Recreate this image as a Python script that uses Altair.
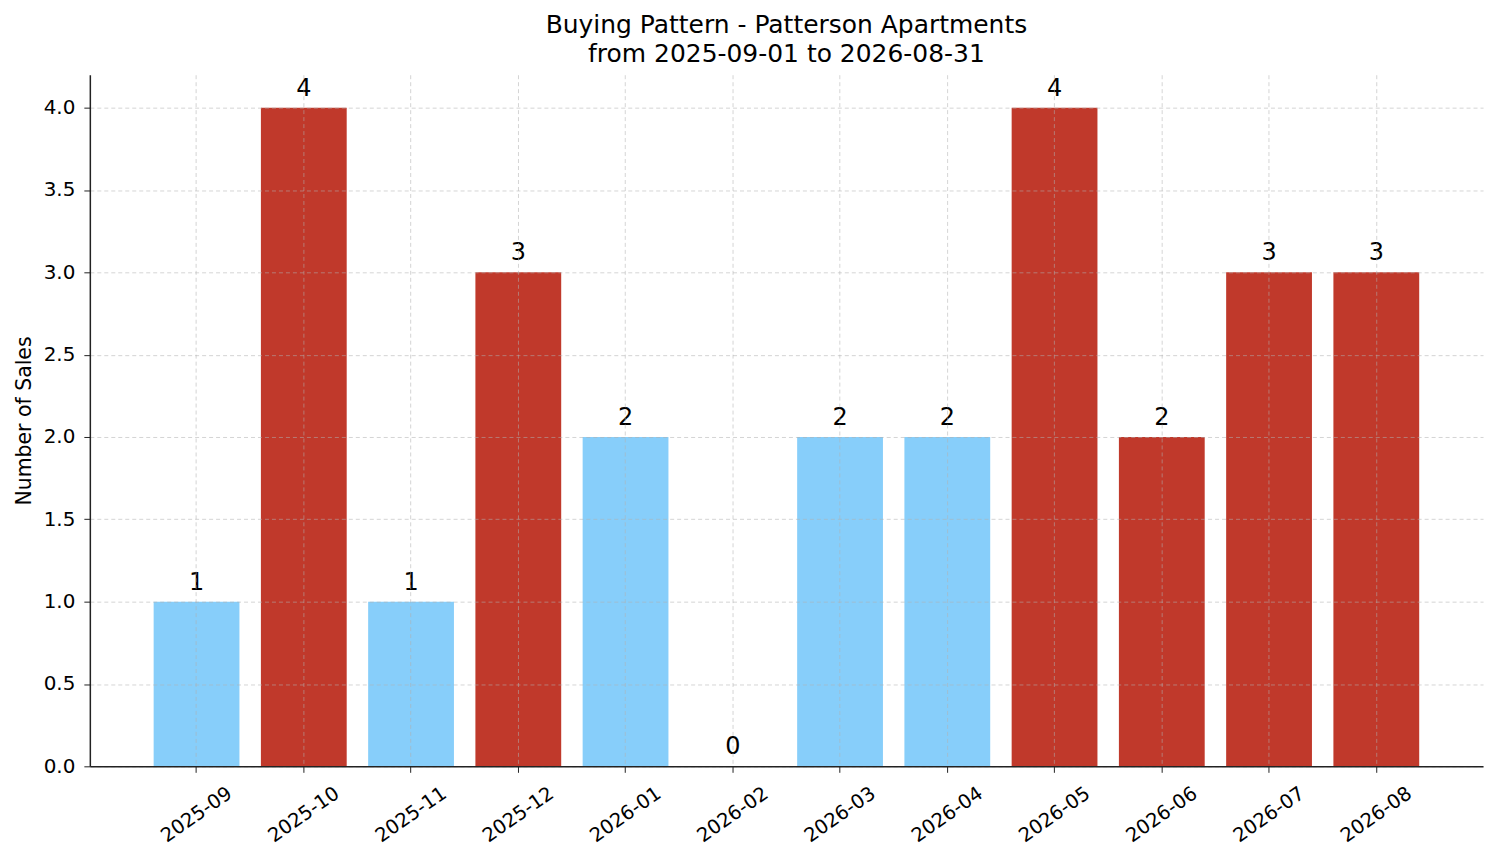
import altair as alt
import pandas as pd

months = ["2025-09", "2025-10", "2025-11", "2025-12", "2026-01", "2026-02",
          "2026-03", "2026-04", "2026-05", "2026-06", "2026-07", "2026-08"]
sales = [1, 4, 1, 3, 2, 0, 2, 2, 4, 2, 3, 3]
group = ["low", "high", "low", "high", "low", "low",
         "low", "low", "high", "high", "high", "high"]

df = pd.DataFrame({"Month": months, "Sales": sales, "Group": group})

FONT = "DejaVu Sans"

x_enc = alt.X("Month:N", sort=months, title=None,
              scale=alt.Scale(paddingInner=0.2, paddingOuter=0.595),
              axis=alt.Axis(labelAngle=325, labelAlign="center", labelBaseline="middle",
                            labelPadding=42, labelFontSize=19.5, labelFont=FONT,
                            labelColor="#000000", tickSize=6, tickColor="#222222",
                            domainColor="#222222", domainWidth=1.5, bandPosition=0.5,
                            grid=True, gridDash=[4, 3], gridColor="#b0b0b0",
                            gridOpacity=0.55, zindex=1))

bars = alt.Chart(df).mark_bar().encode(
    x=x_enc,
    y=alt.Y("Sales:Q", title="Number of Sales",
            scale=alt.Scale(domain=[0, 4.2], nice=False, zero=True),
            axis=alt.Axis(values=[0, 0.5, 1, 1.5, 2, 2.5, 3, 3.5, 4], format=".1f",
                          labelFontSize=20, labelFont=FONT, labelColor="#000000",
                          labelPadding=9, tickSize=6, tickColor="#222222",
                          domainColor="#222222", domainWidth=1.5,
                          titleFontSize=20.5, titleFont=FONT, titleFontWeight="normal",
                          titleColor="#000000", titlePadding=9,
                          grid=True, gridDash=[4, 3], gridColor="#b0b0b0",
                          gridOpacity=0.55, zindex=1)),
    color=alt.Color("Group:N", legend=None,
                    scale=alt.Scale(domain=["low", "high"], range=["#87CEFA", "#C0392B"])),
)

labels = alt.Chart(df).mark_text(baseline="alphabetic", dy=-12, fontSize=24,
                                 font=FONT, color="#000000").encode(
    x=alt.X("Month:N", sort=months),
    y=alt.Y("Sales:Q"),
    text=alt.Text("Sales:Q"),
)

chart = alt.layer(bars, labels).properties(
    width=1396,
    height=693,
    background="white",
    title=alt.Title(["Buying Pattern - Patterson Apartments", "from 2025-09-01 to 2026-08-31"],
                    fontSize=25, font=FONT, fontWeight="normal", color="#000000",
                    anchor="middle", offset=8, lineHeight=29),
    autosize=alt.AutoSizeParams(type="none"),
    padding={"left": 82, "top": 66, "right": 10, "bottom": 80},
).configure_view(strokeWidth=0, stroke="transparent")

chart.save("out.html", embed_options={"renderer": "svg", "actions": False})
